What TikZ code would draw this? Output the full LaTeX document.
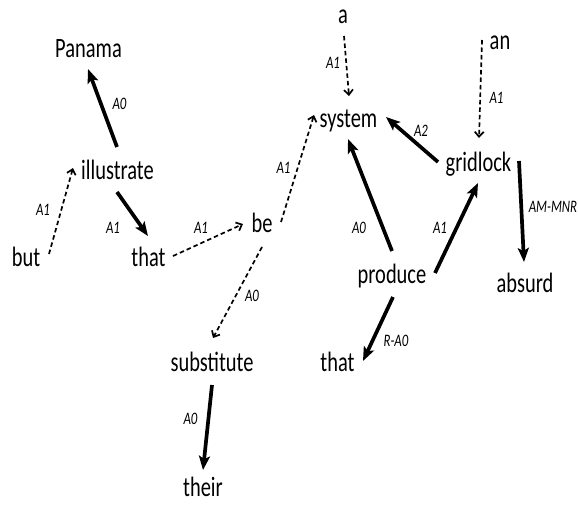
\documentclass[tikz,border=0pt]{standalone}
\usepackage{fontspec}
\setmainfont{Carlito}[FakeStretch=0.73]
\usetikzlibrary{arrows.meta}
\begin{document}
\begin{tikzpicture}[x=1pt,y=-1pt,
  word/.style={inner sep=0pt, anchor=base, font=\fontsize{28}{30}\selectfont},
  role/.style={inner sep=0pt, anchor=center, font=\fontsize{17.5}{20}\selectfont\itshape},
  core/.style={line width=3.7pt, -{Stealth[length=14pt,width=11pt,inset=3pt]}},
  weak/.style={line width=1.7pt, dash pattern=on 4.5pt off 3pt,
               -{Straight Barb[length=5pt,width=9pt]}},
]
\useasboundingbox (0,0) rectangle (578,504);

% words (placed by baseline)
\node[word] (Panama)     at (88.5,57)  {Panama};
\node[word] (illustrate) at (117.5,179) {illustrate};
\node[word] (but)        at (26,266)   {but};
\node[word] (thatL)      at (148.5,266) {that};
\node[word] (be)         at (262,232)  {be};
\node[word] (substitute) at (212,371)  {substitute};
\node[word] (their)      at (203,496)  {their};
\node[word] (a)          at (343,23)   {a};
\node[word] (system)     at (348.5,127) {system};
\node[word] (an)         at (500,49)   {an};
\node[word] (gridlock)   at (478.5,171) {gridlock};
\node[word] (produce)    at (392,283)  {produce};
\node[word] (absurd)     at (525,292)  {absurd};
\node[word] (thatR)      at (337.5,371) {that};

% solid (core) relations
\draw[core] ([xshift=-0.5pt,yshift=32pt]illustrate.base) -- ([xshift=-0.5pt,yshift=-12pt]Panama.base);
\draw[core] ([xshift=-0.5pt,yshift=-13pt]illustrate.base) -- ([xshift=-0.5pt,yshift=30pt]thatL.base);
\draw[core] ([yshift=-14pt]substitute.base) -- ([yshift=26pt]their.base);
\draw[core] ([xshift=-40.5pt,yshift=9pt]gridlock.base) -- ([xshift=37.5pt,yshift=10pt]system.base);
\draw[core] ([xshift=40.5pt,yshift=10pt]gridlock.base) -- ([xshift=-1pt,yshift=30pt]absurd.base);
\draw[core] ([yshift=32pt]produce.base) -- ([xshift=-0.5pt,yshift=-12pt]system.base);
\draw[core] ([xshift=43pt,yshift=10pt]produce.base) -- ([xshift=-0.5pt,yshift=-12pt]gridlock.base);
\draw[core] ([xshift=1pt,yshift=-14pt]produce.base) -- ([xshift=25.5pt,yshift=10pt]thatR.base);

% dashed (weak) relations
\draw[weak] ([xshift=23pt,yshift=12pt]but.base) -- ([xshift=-44.5pt,yshift=11pt]illustrate.base);
\draw[weak] ([xshift=24.5pt,yshift=10pt]thatL.base) -- ([xshift=-19pt,yshift=8pt]be.base);
\draw[weak] ([xshift=19pt,yshift=10pt]be.base) -- ([xshift=-34.5pt,yshift=12pt]system.base);
\draw[weak] ([yshift=-15pt]be.base) -- ([xshift=1pt,yshift=33pt]substitute.base);
\draw[weak] ([xshift=1pt,yshift=-13pt]a.base) -- ([xshift=0.5pt,yshift=31pt]system.base);
\draw[weak] ([xshift=-18pt,yshift=9pt]an.base) -- ([xshift=0.5pt,yshift=33pt]gridlock.base);

% role labels
\node[role] (l1)  at (119.5,104) {A0};
\node[role] (l2)  at (113,228)   {A1};
\node[role] (l3)  at (43,210)    {A1};
\node[role] (l4)  at (201,228)   {A1};
\node[role] (l5)  at (283.5,167.5) {A1};
\node[role] (l6)  at (252,296)   {A0};
\node[role] (l7)  at (190.5,419) {A0};
\node[role] (l8)  at (333,62.5)  {A1};
\node[role] (l9)  at (496.5,97.5) {A1};
\node[role] (l10) at (421,131)   {A2};
\node[role] (l11) at (553,206.5) {AM-MNR};
\node[role] (l12) at (359,227.5) {A0};
\node[role] (l13) at (440,227.5) {A1};
\node[role] (l14) at (396,341)   {R-A0};
\end{tikzpicture}
\end{document}
